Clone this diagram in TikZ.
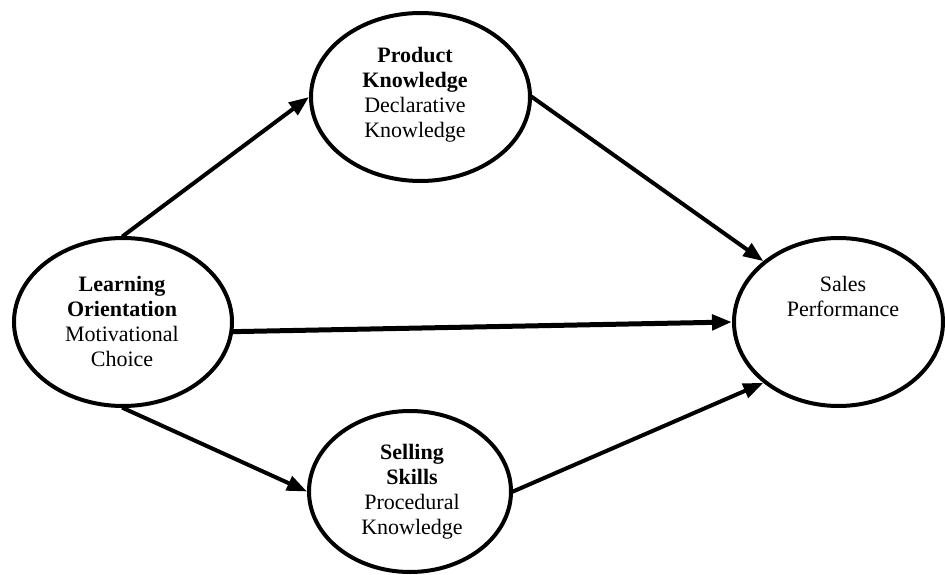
\documentclass[tikz,border=0pt]{standalone}
\usepackage{fontspec}
\setmainfont{Liberation Serif}
\usetikzlibrary{shapes.geometric,arrows.meta}
\tikzset{
  oval/.style={draw=black, line width=4pt, ellipse, inner sep=0pt},
  lbl/.style={align=center, font=\fontsize{22}{25}\selectfont, inner sep=0pt},
  arr/.style={line width=4pt, -{Triangle[length=20pt,width=15pt]}, shorten <=-1pt},
}
\begin{document}
\begin{tikzpicture}[x=1pt,y=-1pt]
\useasboundingbox (0,0) rectangle (945,575);
\node[oval, minimum width=218pt, minimum height=168pt] (lo) at (123,322) {};
\node[oval, minimum width=219pt, minimum height=168pt] (pk) at (420.5,97) {};
\node[oval, minimum width=202pt, minimum height=161pt] (ss) at (410,491.5) {};
\node[oval, minimum width=209pt, minimum height=168pt] (sp) at (838.5,322) {};
\node[lbl] (lot) at (122,321) {\textbf{Learning}\\\textbf{Orientation}\\Motivational\\Choice};
\node[lbl] (pkt) at (415,95) {\textbf{Product}\\\textbf{Knowledge}\\Declarative\\Knowledge};
\node[lbl] (sst) at (412,492) {\textbf{Selling}\\\textbf{Skills}\\Procedural\\Knowledge};
\node[lbl] (spt) at (843,296) {Sales\\Performance};
\draw[arr] (lo.north) -- (pk.west);
\draw[arr] (pk.east) -- (sp.141);
\draw[arr, line width=5pt] (lo.-5) -- (sp.west);
\draw[arr] (lo.south) -- (ss.west);
\draw[arr] (ss.east) -- (sp.219);
\end{tikzpicture}
\end{document}
